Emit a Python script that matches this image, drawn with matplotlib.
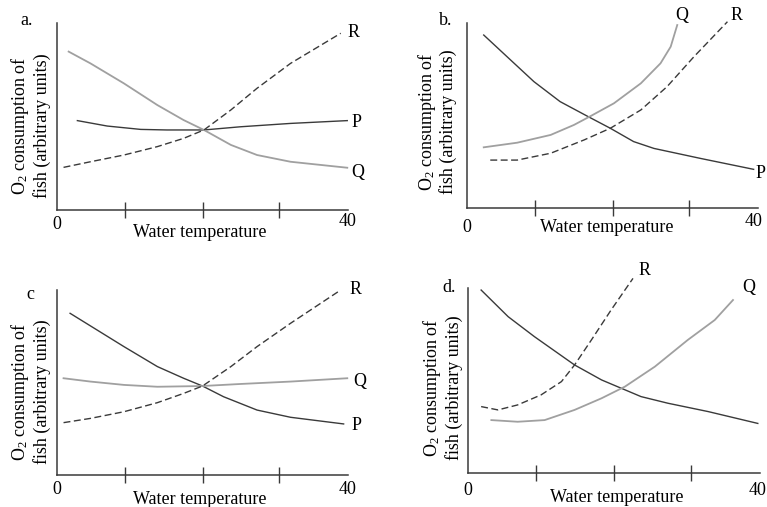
"""Four sketch panels: O2 consumption of fish P, Q, R against water temperature."""

import matplotlib

matplotlib.use("Agg")
import matplotlib.pyplot as plt

plt.rcParams["font.family"] = ["Liberation Serif", "DejaVu Serif"]
plt.rcParams["mathtext.fontset"] = "custom"
plt.rcParams["mathtext.rm"] = "Liberation Serif"
plt.rcParams["mathtext.it"] = "Liberation Serif:italic"

# values (x: water temperature 0-40, y: arbitrary 0-10)
a_p_x = [2.8, 6.9, 11.5, 15.1, 20.2, 25.2, 32.1, 39.9]
a_p_y = [4.78, 4.49, 4.31, 4.28, 4.28, 4.45, 4.63, 4.78]
a_q_x = [1.6, 4.6, 9.2, 13.8, 17.4, 20.2, 23.9, 27.5, 32.1, 39.9]
a_q_y = [8.47, 7.84, 6.77, 5.61, 4.81, 4.28, 3.48, 2.94, 2.58, 2.26]
a_r_x = [0.9, 4.6, 9.2, 13.8, 17.4, 20.2, 23.9, 27.5, 32.1, 39.0]
a_r_y = [2.28, 2.58, 2.94, 3.39, 3.83, 4.28, 5.35, 6.51, 7.84, 9.45]

b_p_x = [2.3, 5.5, 9.2, 12.8, 16.7, 19.7, 22.9, 25.7, 32.1, 39.4]
b_p_y = [9.35, 8.18, 6.83, 5.75, 4.93, 4.31, 3.59, 3.22, 2.68, 2.09]
b_q_x = [2.3, 6.9, 11.5, 14.7, 17.0, 20.2, 23.9, 26.6, 28.0, 28.9]
b_q_y = [3.28, 3.53, 3.95, 4.49, 4.97, 5.66, 6.74, 7.82, 8.72, 9.89]
b_r_x = [3.2, 6.9, 11.5, 16.1, 19.7, 23.9, 27.5, 31.2, 35.8]
b_r_y = [2.59, 2.59, 2.96, 3.68, 4.31, 5.30, 6.56, 8.18, 10.07]

c_p_x = [1.8, 5.5, 9.2, 13.8, 17.4, 20.0, 22.9, 27.5, 32.1, 39.4]
c_p_y = [8.74, 7.84, 6.94, 5.86, 5.23, 4.81, 4.23, 3.51, 3.12, 2.76]
c_q_x = [0.9, 4.6, 9.2, 13.8, 20.0, 25.2, 32.1, 39.9]
c_q_y = [5.23, 5.05, 4.87, 4.77, 4.81, 4.92, 5.05, 5.23]
c_r_x = [0.9, 4.6, 9.2, 13.8, 17.4, 20.0, 23.9, 27.5, 32.1, 39.0]
c_r_y = [2.83, 3.06, 3.42, 3.91, 4.41, 4.81, 5.86, 6.94, 8.20, 10.0]

d_p_x = [1.8, 5.5, 9.1, 14.6, 18.3, 21.0, 23.7, 27.4, 32.9, 39.7]
d_p_y = [9.89, 8.45, 7.37, 5.84, 5.03, 4.58, 4.13, 3.77, 3.32, 2.68]
d_q_x = [3.2, 6.8, 10.5, 14.6, 18.3, 21.5, 25.6, 30.1, 33.8, 36.3]
d_q_y = [2.86, 2.77, 2.86, 3.41, 4.04, 4.67, 5.75, 7.19, 8.27, 9.35]
d_r_x = [1.8, 4.1, 6.8, 10.0, 12.8, 14.6, 16.9, 19.6, 22.6]
d_r_y = [3.59, 3.41, 3.68, 4.22, 4.94, 5.84, 7.19, 8.81, 10.52]

tick_positions = [9.3, 20.0, 30.5]
x_labels = ["0", "40"]
y_label = "O$_2$ consumption of\nfish (arbitrary units)"
x_title = "Water temperature"

DARK = "#3a3a3a"
LIGHT = "#a0a0a0"
FS = 13

W, H = 767, 507


def _axes(fig, left, top, right, bottom):
    ax = fig.add_axes([left / W, 1 - bottom / H, (right - left) / W, (bottom - top) / H])
    ax.set_xlim(0, 40)
    ax.set_ylim(0, 10)
    for side in ("top", "right"):
        ax.spines[side].set_visible(False)
    for side in ("left", "bottom"):
        ax.spines[side].set_color(DARK)
        ax.spines[side].set_linewidth(1.1)
    ax.set_yticks([])
    ax.set_xticks(tick_positions)
    ax.set_xticklabels([])
    ax.tick_params(axis="x", direction="inout", length=12, width=1.0, color=DARK)
    ax.patch.set_alpha(0)
    return ax


def _curves(ax, p, q, r):
    ax.plot(p[0], p[1], color=DARK, lw=1.0, clip_on=False)
    ax.plot(q[0], q[1], color=LIGHT, lw=1.3, clip_on=False)
    ax.plot(r[0], r[1], color=DARK, lw=1.0, ls=(0, (5, 2.5)), clip_on=False)


def _texts(ax, letter, letter_xy, zero_y, forty_xy, title_xy, ylab_xy, names):
    ax.text(*letter_xy, letter, transform=ax.transAxes, ha="center", va="center", fontsize=FS)
    ax.text(0, zero_y, x_labels[0], transform=ax.transAxes, ha="center", va="center", fontsize=FS)
    ax.text(*forty_xy, x_labels[1], transform=ax.transAxes, ha="center", va="center", fontsize=FS)
    ax.text(*title_xy, x_title, transform=ax.transAxes, ha="center", va="center", fontsize=FS)
    ax.text(*ylab_xy, y_label, transform=ax.transAxes, ha="center", va="center",
            rotation=90, fontsize=FS, linespacing=1.1, multialignment="center")
    for name, x, y in names:
        ax.text(x, y, name, ha="center", va="center", fontsize=FS, clip_on=False)


fig = plt.figure(figsize=(W / 100, H / 100), dpi=100)

ax_a = _axes(fig, 57, 23, 348, 210)
_curves(ax_a, (a_p_x, a_p_y), (a_q_x, a_q_y), (a_r_x, a_r_y))
_texts(ax_a, "a.", (-0.103, 1.016), -0.08, (1.0, -0.06), (0.49, -0.118), (-0.093, 0.45),
       [("R", 40.7, 9.47), ("P", 41.2, 4.7), ("Q", 41.4, 2.03)])

ax_b = _axes(fig, 467, 23, 758, 208)
_curves(ax_b, (b_p_x, b_p_y), (b_q_x, b_q_y), (b_r_x, b_r_y))
_texts(ax_b, "b.", (-0.072, 1.016), -0.108, (0.985, -0.075), (0.48, -0.108), (-0.105, 0.465),
       [("Q", 29.5, 10.43), ("R", 37.1, 10.43), ("P", 40.3, 1.87)])

ax_c = _axes(fig, 57, 290, 348, 475)
_curves(ax_c, (c_p_x, c_p_y), (c_q_x, c_q_y), (c_r_x, c_r_y))
_texts(ax_c, "c", (-0.093, 0.978), -0.081, (1.0, -0.081), (0.49, -0.135), (-0.093, 0.45),
       [("R", 41.0, 10.04), ("Q", 41.6, 5.05), ("P", 41.2, 2.67)])

ax_d = _axes(fig, 468, 288, 760, 473)
_curves(ax_d, (d_p_x, d_p_y), (d_q_x, d_q_y), (d_r_x, d_r_y))
_texts(ax_d, "d.", (-0.065, 1.0), -0.092, (0.99, -0.092), (0.51, -0.13), (-0.089, 0.46),
       [("R", 24.2, 10.97), ("Q", 38.4, 10.04), ("P", 41.6, 2.7)])

fig.savefig("out.png", dpi=100)
